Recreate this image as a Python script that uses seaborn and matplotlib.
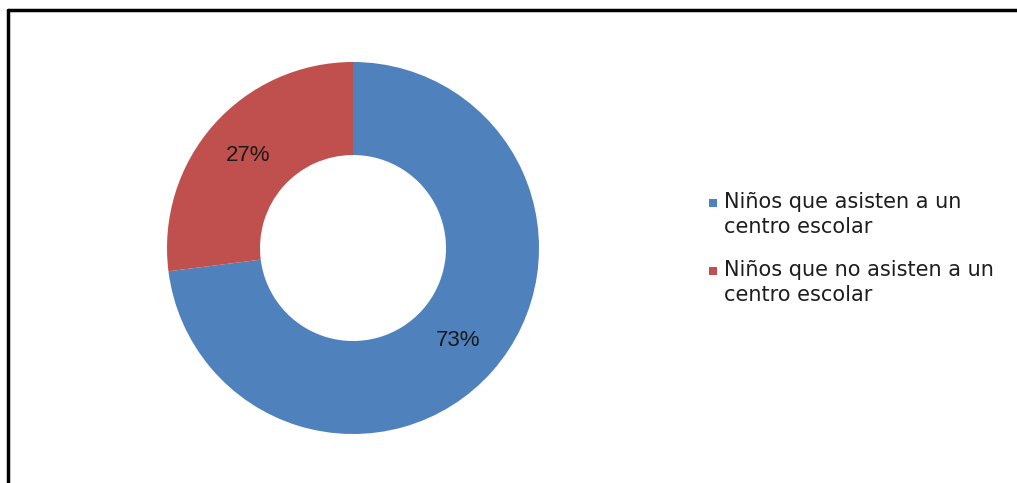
import matplotlib
matplotlib.use("Agg")
import matplotlib.pyplot as plt
from matplotlib.lines import Line2D
from matplotlib.patches import Rectangle
import seaborn as sns

categories = ["Niños que asisten a un\ncentro escolar",
              "Niños que no asisten a un\ncentro escolar"]
values = [73, 27]
colors = ["#4F81BD", "#C0504D"]

sns.set_theme(style="white")
plt.rcParams['font.family'] = ['Liberation Sans', 'DejaVu Sans']

fig = plt.figure(figsize=(10.17, 4.83), dpi=100)
fig.patch.set_facecolor("white")

R = 186
cx, cy = 353, 248
W, H = 1017, 483
ax = fig.add_axes([(cx - R) / W, (H - cy - R) / H, 2 * R / W, 2 * R / H])
wedges, texts, autotexts = ax.pie(
    values, colors=colors, startangle=90, counterclock=False,
    wedgeprops=dict(width=0.5, edgecolor="none"),
    autopct=lambda p: f"{p:.0f}%", pctdistance=0.75,
    textprops=dict(fontsize=16, color="#1a1a1a"))
ax.set_xlim(-1, 1)
ax.set_ylim(-1, 1)
ax.set_aspect("equal")
ax.axis("off")

# legend (drawn manually so the square sits beside the first line)
leg_x = 709
leg_mid = [203, 271]
for lab, col, ty in zip(categories, colors, leg_mid):
    fig.add_artist(Rectangle((leg_x / W, 1 - (ty + 4) / H), 8 / W, 8 / H,
                             transform=fig.transFigure, facecolor=col,
                             edgecolor="none"))
    fig.text((leg_x + 15) / W, 1 - (ty - 11) / H, lab, ha="left", va="top",
             fontsize=15, family=["DejaVu Sans"], color="#1e1e1e",
             linespacing=1.3, transform=fig.transFigure)

# frame (only top and left edges visible in reference)
fig.add_artist(Line2D([8 / W, 8 / W], [0, 1 - 10 / H], transform=fig.transFigure,
                      color="black", lw=2.5))
fig.add_artist(Line2D([8 / W, 1], [1 - 10 / H, 1 - 10 / H], transform=fig.transFigure,
                      color="black", lw=2.5))

fig.savefig("out.png", dpi=100)
